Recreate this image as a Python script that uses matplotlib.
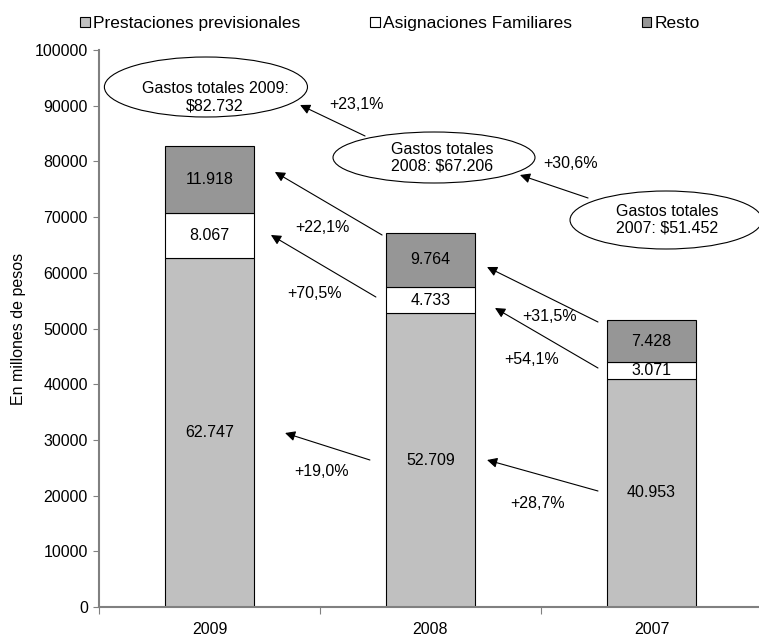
import matplotlib.pyplot as plt
from matplotlib.patches import Ellipse, Rectangle
import numpy as np

plt.rcParams['font.family'] = ['Liberation Sans', 'DejaVu Sans']

# data
years = ['2009', '2008', '2007']
prestaciones = [62747, 52709, 40953]
asignaciones = [8067, 4733, 3071]
resto = [11918, 9764, 7428]
totales = [82732, 67206, 51452]
series_names = ['Prestaciones previsionales', 'Asignaciones Familiares', 'Resto']

# growth annotations: (label, arrow tail, arrow head, label position) in data coords
growth_labels = ['+23,1%', '+30,6%', '+22,1%', '+70,5%', '+31,5%', '+54,1%', '+19,0%', '+28,7%']
arrow_tails = [(0.704, 84560), (1.713, 73430), (0.781, 66786), (0.753, 55655),
               (1.758, 51167), (1.758, 42908), (0.726, 26391), (1.758, 20826)]
arrow_heads = [(0.410, 90126), (1.405, 77558), (0.296, 78097), (0.278, 66786),
               (1.256, 61041), (1.292, 53680), (0.342, 31239), (1.256, 26391)]
label_pos = [(0.667, 90305), (1.636, 79713), (0.509, 68223), (0.477, 56373),
             (1.541, 52065), (1.459, 44345), (0.509, 24237), (1.486, 18671)]

# total boxes
total_texts = ['Gastos totales 2009:\n$%s' % f'{totales[0]:,}'.replace(',', '.'),
               'Gastos totales\n2008: $%s' % f'{totales[1]:,}'.replace(',', '.'),
               'Gastos totales\n2007: $%s' % f'{totales[2]:,}'.replace(',', '.')]
ellipse_xy = [(-0.016, 93357), (1.016, 80700), (2.066, 69479)]
ellipse_wh = [(0.919, 10772), (0.914, 9156), (0.869, 10413)]
ellipse_text_xy = [(0.025, 91500), (1.052, 80610), (2.070, 69480)]

colors = ['#C0C0C0', '#FFFFFF', '#969696']
grey = '#808080'
fs = 11.5

fig = plt.figure(figsize=(7.59, 6.37), dpi=100)
ax = fig.add_axes([0.1304, 0.0471, 0.8735, 0.8744])

x = np.arange(len(years))
bottom = np.zeros(len(years))
for vals, col, name in zip([prestaciones, asignaciones, resto], colors, series_names):
    ax.bar(x, vals, width=0.4, bottom=bottom, color=col, edgecolor='black',
           linewidth=0.8, label=name, zorder=2)
    for xi, b, v in zip(x, bottom, vals):
        ax.text(xi, b + v / 2, f'{v:,}'.replace(',', '.'), ha='center', va='center',
                fontsize=fs, zorder=3)
    bottom = bottom + np.array(vals)

# ellipses with totals
for (cx, cy), (w, h), (tx, ty), txt in zip(ellipse_xy, ellipse_wh, ellipse_text_xy, total_texts):
    ax.add_patch(Ellipse((cx, cy), w, h, facecolor='white', edgecolor='black',
                         linewidth=0.8, zorder=4, clip_on=False))
    ax.text(tx, ty, txt, ha='center', va='center', fontsize=fs, zorder=5,
            linespacing=1.15)

# arrows
for lab, tail, head, pos in zip(growth_labels, arrow_tails, arrow_heads, label_pos):
    ax.annotate('', xy=head, xytext=tail,
                arrowprops=dict(arrowstyle='-|>', color='black', lw=0.8,
                                mutation_scale=15, shrinkA=0, shrinkB=0),
                zorder=6, annotation_clip=False)
    ax.text(pos[0], pos[1], lab, ha='center', va='center', fontsize=fs, zorder=6)

ax.set_xlim(-0.5, 2.5)
ax.set_ylim(0, 100000)
ax.set_yticks(np.arange(0, 100001, 10000))
ax.tick_params(axis='y', direction='out', length=4, color=grey, labelsize=fs, pad=4)

ax.set_xticks([-0.5, 0.5, 1.5, 2.5])
ax.set_xticklabels([])
ax.set_xticks(x, minor=True)
ax.set_xticklabels(years, minor=True)
ax.tick_params(axis='x', which='major', direction='out', length=5, color=grey)
ax.tick_params(axis='x', which='minor', length=0, labelsize=fs, pad=11)

for side in ['top', 'right']:
    ax.spines[side].set_visible(False)
for side in ['left', 'bottom']:
    ax.spines[side].set_color(grey)
    ax.spines[side].set_linewidth(1.5)

ax.set_ylabel('En millones de pesos', fontsize=fs, labelpad=6)

# legend
handles = [Rectangle((0, 0), 1, 1, facecolor=c, edgecolor='black', linewidth=0.8) for c in colors]
fig.legend(handles, series_names, loc='center', bbox_to_anchor=(0.514, 0.963), ncol=3,
           frameon=False, fontsize=12.5, handlelength=0.55, handleheight=0.55,
           handletextpad=0.2, columnspacing=4.0)

plt.savefig('out.png', dpi=100)
